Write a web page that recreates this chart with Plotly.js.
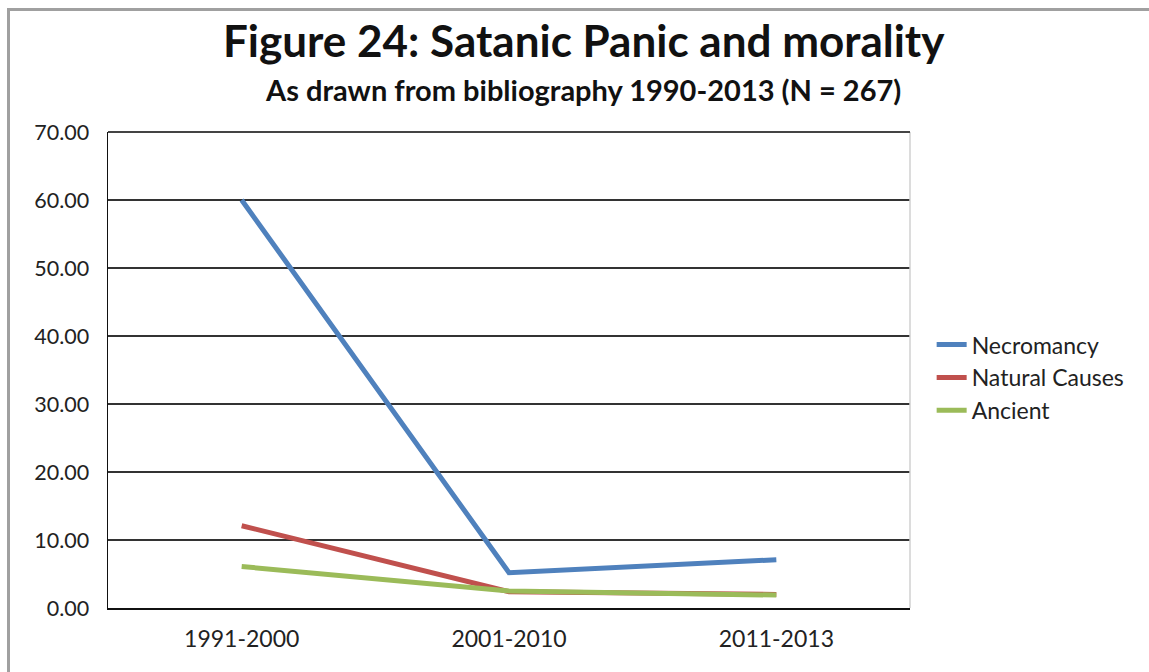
<!DOCTYPE html>
<html>
<head>
<meta charset="utf-8">
<script src="https://cdn.plot.ly/plotly-3.0.1.min.js"></script>
<style>
  html, body { margin: 0; padding: 0; background: #fff; }
  #wrap { position: relative; width: 1149px; height: 672px; overflow: hidden; }
  #frame { position: absolute; left: 7px; top: 8px; right: -10px; bottom: -10px;
           border-top: 3px solid #a0a0a0; border-left: 3px solid #a0a0a0; pointer-events: none; }
  #chart { position: absolute; left: 0; top: 0; width: 1149px; height: 672px; }
</style>
</head>
<body>
<div id="wrap">
  <div id="chart"></div>
  <div id="frame"></div>
</div>
<script>
// Share of bibliography entries by decade, per explanation theme
const periods = ["1991-2000", "2001-2010", "2011-2013"];
const necromancy = [60.0, 5.2, 7.1];
const naturalCauses = [12.1, 2.4, 2.0];
const ancient = [6.1, 2.5, 1.9];

const seriesNames = ["Necromancy", "Natural Causes", "Ancient"];
const seriesColors = ["#4F81BD", "#C0504D", "#9BBB59"];
const seriesValues = [necromancy, naturalCauses, ancient];

const FONT = "Lato, 'Open Sans', sans-serif";

const traces = seriesValues.map((vals, i) => ({
  type: "scatter",
  mode: "lines",
  name: seriesNames[i],
  x: periods,
  y: vals,
  line: { color: seriesColors[i], width: 5 }
}));

const layout = {
  width: 1149,
  height: 672,
  margin: { l: 108, r: 239, t: 132, b: 64 },
  paper_bgcolor: "#ffffff",
  plot_bgcolor: "#ffffff",
  showlegend: true,
  legend: {
    x: 1.027, y: 0.484, xanchor: "left", yanchor: "middle",
    font: { family: FONT, size: 23, color: "#222" },
    tracegroupgap: 0, itemwidth: 30, bgcolor: "rgba(0,0,0,0)"
  },
  xaxis: {
    type: "category",
    range: [-0.5, 2.5],
    showgrid: false,
    showline: true, linecolor: "#111", linewidth: 1.5,
    mirror: false,
    ticks: "",
    tickfont: { family: FONT, size: 23, color: "#222" },
    ticklabelstandoff: 10,
    zeroline: false,
    fixedrange: true
  },
  yaxis: {
    range: [0, 70],
    dtick: 10,
    tickformat: ".2f",
    showgrid: true, gridcolor: "#333", gridwidth: 1.3,
    showline: true, linecolor: "#111", linewidth: 1.5,
    ticks: "",
    tickfont: { family: FONT, size: 21.5, color: "#222" },
    ticklabelstandoff: 13,
    zeroline: false,
    fixedrange: true
  },
  shapes: [
    { type: "line", xref: "paper", yref: "paper", x0: 1, x1: 1, y0: 0, y1: 1,
      line: { color: "#d0d0d0", width: 1.5 } },
    { type: "line", xref: "paper", yref: "paper", x0: 0, x1: 1, y0: 1, y1: 1,
      line: { color: "#444", width: 2 } }
  ],
  annotations: [
    { text: "<b>Figure 24: Satanic Panic and morality</b>", xref: "paper", yref: "paper",
      x: 0.594, y: 1, yshift: 92, xanchor: "center", yanchor: "middle", showarrow: false,
      font: { family: FONT, size: 44, color: "#111" } },
    { text: "<b>As drawn from bibliography 1990-2013 (N = 267)</b>", xref: "paper", yref: "paper",
      x: 0.592, y: 1, yshift: 43, xanchor: "center", yanchor: "middle", showarrow: false,
      font: { family: FONT, size: 29, color: "#111" } }
  ]
};

Plotly.newPlot("chart", traces, layout, { displayModeBar: false, staticPlot: true });
</script>
</body>
</html>
